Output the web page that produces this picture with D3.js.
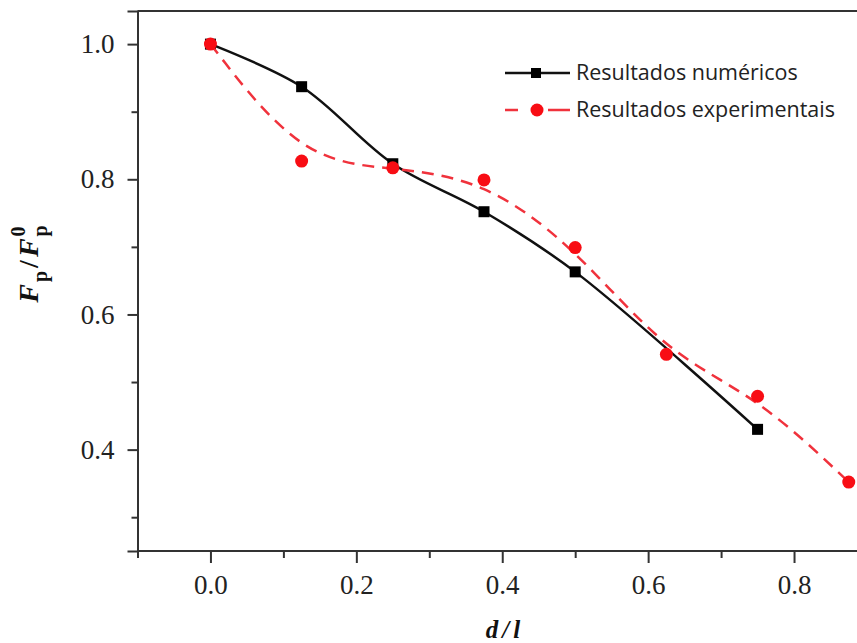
<!DOCTYPE html>
<html><head><meta charset="utf-8">
<script src="https://cdn.jsdelivr.net/npm/d3@7"></script>
<style>html,body{margin:0;padding:0;background:#fff;}svg{display:block;}</style>
</head><body>
<div id="chart"></div>
<script>
// ---- data ----
const numX = [0, 0.125, 0.25, 0.375, 0.5, 0.75];
const numY = [1.0, 0.937, 0.823, 0.752, 0.663, 0.430];
const expX = [0, 0.125, 0.25, 0.375, 0.5, 0.625, 0.75, 0.875];
const expY = [1.0, 0.827, 0.817, 0.799, 0.699, 0.541, 0.479, 0.352];
const xMajorTicks = [0.0, 0.2, 0.4, 0.6, 0.8];
const xMinorTicks = [-0.1, 0.1, 0.3, 0.5, 0.7];
const yMajorTicks = [0.4, 0.6, 0.8, 1.0];
const yMinorTicks = [0.3, 0.5, 0.7, 0.9];
const legendLabels = ["Resultados numéricos", "Resultados experimentais"];

const W = 857, H = 643;
const svg = d3.select("#chart").append("svg").attr("width", W).attr("height", H);

const x = d3.scaleLinear().domain([-0.1, 0.887]).range([137.5, 857.5]);
const y = d3.scaleLinear().domain([0.25, 1.049]).range([551, 11]);

const axisColor = "#333";
const serif = "'Liberation Serif','Times New Roman',serif";

// frame top
svg.append("line").attr("x1", x(-0.1)).attr("x2", W).attr("y1", y(1.049)).attr("y2", y(1.049))
  .attr("stroke", axisColor).attr("stroke-width", 2);

// axes
const gx = svg.append("g").attr("transform", `translate(0,${y(0.25)})`)
  .call(d3.axisBottom(x).tickValues(xMajorTicks).tickSize(12).tickPadding(12).tickFormat(d3.format(".1f")));
const gxm = svg.append("g").attr("transform", `translate(0,${y(0.25)})`)
  .call(d3.axisBottom(x).tickValues(xMinorTicks).tickSize(7).tickFormat(""));
const gy = svg.append("g").attr("transform", `translate(${x(-0.1)},0)`)
  .call(d3.axisLeft(y).tickValues(yMajorTicks).tickSize(10).tickPadding(13).tickFormat(d3.format(".1f")));
const gym = svg.append("g").attr("transform", `translate(${x(-0.1)},0)`)
  .call(d3.axisLeft(y).tickValues(yMinorTicks).tickSize(6).tickFormat(""));

[gx, gxm, gy, gym].forEach(g => {
  g.select(".domain").attr("stroke", axisColor).attr("stroke-width", 2);
  g.selectAll(".tick line").attr("stroke", axisColor).attr("stroke-width", 2);
  g.selectAll("text").attr("font-family", serif).attr("font-size", 27).attr("fill", "#222");
});
gx.select(".domain").attr("d", `M${x(-0.1)},0H${W}`);
gxm.select(".domain").remove();
gym.select(".domain").remove();

// lines
const numData = numX.map((d, i) => [d, numY[i]]);
const expData = expX.map((d, i) => [d, expY[i]]);

svg.append("path").datum(numData)
  .attr("d", d3.line().x(d => x(d[0])).y(d => y(d[1])).curve(d3.curveCatmullRom.alpha(0.5)))
  .attr("fill", "none").attr("stroke", "#111").attr("stroke-width", 2.5);
svg.append("g").selectAll("rect").data(numData).join("rect")
  .attr("x", d => x(d[0]) - 5.5).attr("y", d => y(d[1]) - 5.5)
  .attr("width", 11).attr("height", 11).attr("fill", "#000");

svg.append("path").datum(expData)
  .attr("d", d3.line().x(d => x(d[0])).y(d => y(d[1])).curve(d3.curveBasis))
  .attr("fill", "none").attr("stroke", "#f0323c").attr("stroke-width", 2.5)
  .attr("stroke-dasharray", "12,8");
svg.append("g").selectAll("circle").data(expData).join("circle")
  .attr("cx", d => x(d[0])).attr("cy", d => y(d[1])).attr("r", 6.5).attr("fill", "#f80d14");

// legend
const sans = "'Open Sans','Noto Sans',sans-serif";
const lg = svg.append("g");
lg.append("line").attr("x1", 505).attr("x2", 570).attr("y1", 73).attr("y2", 73)
  .attr("stroke", "#111").attr("stroke-width", 2.5);
lg.append("rect").attr("x", 531).attr("y", 68).attr("width", 10).attr("height", 10).attr("fill", "#000");
lg.append("line").attr("x1", 505).attr("x2", 570).attr("y1", 110).attr("y2", 110)
  .attr("stroke", "#f0323c").attr("stroke-width", 2.5).attr("stroke-dasharray", "13,30,22");
lg.append("circle").attr("cx", 537).attr("cy", 110).attr("r", 6.5).attr("fill", "#f80d14");
lg.selectAll("text").data(legendLabels).join("text")
  .attr("x", 576).attr("y", (d, i) => 80 + i * 37)
  .attr("font-family", sans).attr("font-size", 21.5).attr("fill", "#222")
  .text(d => d);

// axis titles
svg.append("text").attr("x", 505).attr("y", 638).attr("text-anchor", "middle")
  .attr("font-family", serif).attr("font-size", 25).attr("font-weight", "bold").attr("font-style", "italic")
  .attr("letter-spacing", 4).attr("fill", "#111").text("d/l");

const yl = svg.append("text").attr("transform", "translate(38,264) rotate(-90)")
  .attr("text-anchor", "middle").attr("font-family", serif).attr("font-size", 28)
  .attr("font-weight", "bold").attr("fill", "#111");
yl.append("tspan").attr("font-style", "italic").text("F");
yl.append("tspan").attr("font-size", 20).attr("dx", 2).attr("dy", 9).text("p");
yl.append("tspan").attr("dx", 3).attr("dy", -9).text("/");
yl.append("tspan").attr("dx", 3).attr("font-style", "italic").text("F");
yl.append("tspan").attr("font-size", 20).attr("dx", 2).attr("dy", -13).text("0");
yl.append("tspan").attr("font-size", 20).attr("dx", -10).attr("dy", 22).text("p");
</script>
</body></html>
